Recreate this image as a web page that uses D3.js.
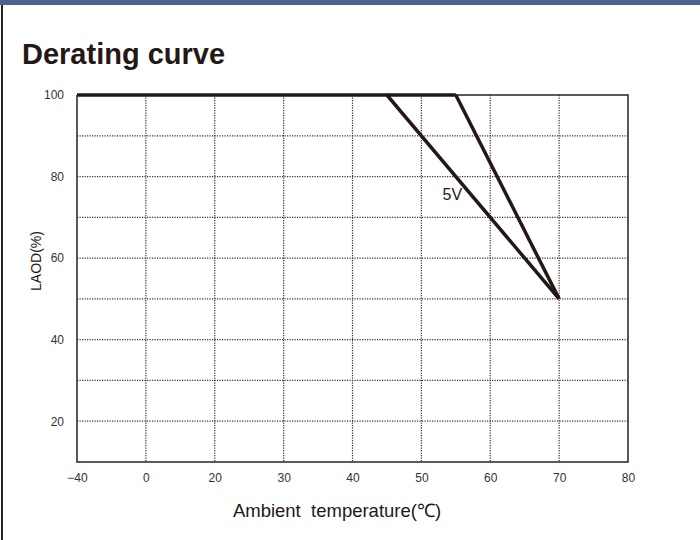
<!DOCTYPE html>
<html>
<head>
<meta charset="utf-8">
<script src="https://cdn.jsdelivr.net/npm/d3@7"></script>
<style>
html,body{margin:0;padding:0;background:#fff;}
svg{display:block;font-family:"Liberation Sans",Arial,sans-serif;}
</style>
</head>
<body>
<svg id="chart" width="700" height="540"></svg>
<script>
// Data
const xTicks = [-40, 0, 20, 30, 40, 50, 60, 70, 80];
const yTicks = [20, 40, 60, 80, 100];
const yGrid = [20, 30, 40, 50, 60, 70, 80, 90];
const curveMain = [[-40, 100], [45, 100], [70, 50]];   // 5V
const curveSecond = [[55, 100], [70, 50]];
const labelText = "5V";
const labelPos = [54.5, 75.2];

const svg = d3.select("#chart");
const W = 700, H = 540;
const L = 77, R = 628, T = 95, B = 462;

// header bar + left border
svg.append("rect").attr("x", 0).attr("y", 0).attr("width", W).attr("height", 5).attr("fill", "#4e6290");
svg.append("rect").attr("x", 1).attr("y", 5).attr("width", 2).attr("height", H - 5).attr("fill", "#2a2222");

// title
svg.append("text").attr("x", 22).attr("y", 64)
  .attr("font-size", 29).attr("font-weight", "bold").attr("fill", "#231815")
  .text("Derating curve");

// scales: evenly spaced tick positions (piecewise linear)
const x = d3.scaleLinear()
  .domain(xTicks)
  .range(xTicks.map((d, i) => L + i * (R - L) / (xTicks.length - 1)));
const y = d3.scaleLinear().domain([10, 100]).range([B, T]);

const g = svg.append("g");

// grid
const gridColor = "#3a3030";
g.selectAll(".vg").data(xTicks.slice(1, -1)).join("line")
  .attr("x1", d => x(d)).attr("x2", d => x(d))
  .attr("y1", T).attr("y2", B)
  .attr("stroke", gridColor).attr("stroke-width", 1.2).attr("stroke-dasharray", "1.2,1.3");
g.selectAll(".hg").data(yGrid).join("line")
  .attr("x1", L).attr("x2", R)
  .attr("y1", d => y(d)).attr("y2", d => y(d))
  .attr("stroke", gridColor).attr("stroke-width", 1.2).attr("stroke-dasharray", "1.2,1.3");

// frame
g.append("path")
  .attr("d", `M${L},${T}L${L},${B}L${R},${B}L${R},${T}L${L},${T}`)
  .attr("fill", "none").attr("stroke", "#2a2222").attr("stroke-width", 1.5);

// axes (labels only)
const xAxis = d3.axisBottom(x).tickValues(xTicks).tickSize(0).tickPadding(11)
  .tickFormat(d => d < 0 ? "\u2212" + Math.abs(d) : d);
const xa = svg.append("g").attr("transform", `translate(0,${B})`).call(xAxis);
xa.select(".domain").remove();
xa.selectAll("text").attr("font-size", 12).attr("fill", "#333").attr("font-family", "Liberation Sans, Arial, sans-serif");

const yAxis = d3.axisLeft(y).tickValues(yTicks).tickSize(0).tickPadding(13);
const ya = svg.append("g").attr("transform", `translate(${L},0)`).call(yAxis);
ya.select(".domain").remove();
ya.selectAll("text").attr("font-size", 12).attr("fill", "#333").attr("font-family", "Liberation Sans, Arial, sans-serif");

// curves
const line = d3.line().x(d => x(d[0])).y(d => y(d[1]));
g.append("path").datum(curveMain).attr("d", line)
  .attr("fill", "none").attr("stroke", "#231815").attr("stroke-width", 3.5).attr("stroke-linejoin", "miter");
g.append("path").datum(curveSecond).attr("d", line)
  .attr("fill", "none").attr("stroke", "#231815").attr("stroke-width", 3.5);
g.append("path").datum([[45,100],[55,100]]).attr("d", line)
  .attr("fill", "none").attr("stroke", "#231815").attr("stroke-width", 3.5);

// label
svg.append("text").attr("x", x(labelPos[0])).attr("y", y(labelPos[1]))
  .attr("text-anchor", "middle").attr("dominant-baseline", "middle")
  .attr("font-size", 16).attr("fill", "#231815").text(labelText);

// axis titles
svg.append("text").attr("transform", `translate(41,261) rotate(-90)`)
  .attr("text-anchor", "middle").attr("font-size", 14).attr("fill", "#231815")
  .text("LAOD(%)");
svg.append("text").attr("x", 337).attr("y", 517)
  .attr("text-anchor", "middle").attr("font-size", 18.5).attr("fill", "#231815")
  .attr("xml:space", "preserve")
  .text("Ambient  temperature(\u2103)");
</script>
</body>
</html>
